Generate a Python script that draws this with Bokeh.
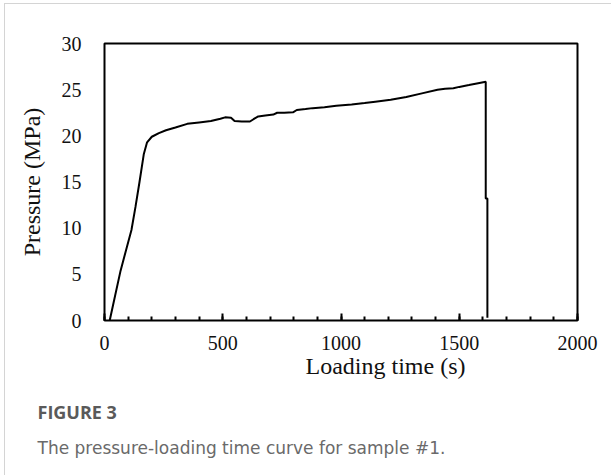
from bokeh.plotting import figure
from bokeh.models import Range1d, SingleIntervalTicker, Title
from bokeh.embed import file_html
from bokeh.resources import INLINE

# ---- data ----
loading_time = [22, 45, 68, 93, 114, 131, 148, 166, 180, 200, 230, 260, 300, 350,
                400, 450, 490, 510, 535, 550, 580, 615, 630, 650, 680, 714, 730,
                760, 797, 813, 850, 880, 930, 980, 1045, 1100, 1145, 1210, 1276,
                1342, 1408, 1440, 1475, 1500, 1541, 1580, 1612, 1612, 1619, 1619]
pressure = [0, 2.7, 5.4, 7.8, 9.8, 12.3, 15.0, 18.0, 19.3, 19.9, 20.3, 20.6, 20.9,
            21.3, 21.45, 21.6, 21.85, 22.0, 21.95, 21.6, 21.55, 21.55, 21.8, 22.1,
            22.2, 22.3, 22.5, 22.5, 22.55, 22.8, 22.9, 23.0, 23.1, 23.25, 23.4,
            23.55, 23.7, 23.9, 24.2, 24.6, 25.0, 25.1, 25.15, 25.3, 25.5, 25.7,
            25.85, 13.2, 13.2, 0.3]

x_title = "Loading time (s)"
y_title = "Pressure (MPa)"
fig_label = "FIGURE 3"
caption = "The pressure-loading time curve for sample #1."

SERIF = "Liberation Serif"

p = figure(width=607, height=472, output_backend="svg", toolbar_location=None,
           x_range=Range1d(0, 2000), y_range=Range1d(0, 30),
           min_border_left=99, min_border_right=35,
           min_border_top=39, min_border_bottom=156,
           margin=(3, 0, 0, 4),
           styles={"border-top": "1px solid #d4d4d4",
                   "border-left": "1px solid #d4d4d4"})

p.grid.visible = False
p.outline_line_color = "black"
p.outline_line_width = 2
p.background_fill_color = "white"
p.border_fill_color = "white"

p.line(loading_time, pressure, line_color="black", line_width=2)

# x axis
xa = p.xaxis[0]
xa.ticker = SingleIntervalTicker(interval=500, num_minor_ticks=5)
xa.axis_line_color = None
xa.major_tick_in = 7
xa.major_tick_out = 0
xa.minor_tick_in = 4
xa.minor_tick_out = 0
xa.major_tick_line_color = "black"
xa.major_tick_line_width = 2
xa.minor_tick_line_color = "black"
xa.minor_tick_line_width = 2
xa.major_label_standoff = 15
xa.major_label_text_font = SERIF
xa.major_label_text_font_size = "20px"
xa.major_label_text_color = "#111111"

# y axis
ya = p.yaxis[0]
ya.ticker = SingleIntervalTicker(interval=5)
ya.axis_line_color = None
ya.major_tick_in = 0
ya.major_tick_out = 0
ya.minor_tick_line_color = None
ya.major_label_standoff = 19
ya.major_label_text_font = SERIF
ya.major_label_text_font_size = "20px"
ya.major_label_text_color = "#111111"
ya.axis_label = y_title
ya.axis_label_text_font = SERIF
ya.axis_label_text_font_size = "24px"
ya.axis_label_text_font_style = "normal"
ya.axis_label_text_color = "#111111"
ya.axis_label_standoff = 14

# x axis title (shifted right as in the reference)
p.add_layout(Title(text=x_title, align="left", offset=201, standoff=-4,
                   text_font=SERIF, text_font_size="24px",
                   text_font_style="normal", text_color="#111111"), "below")

# caption
p.add_layout(Title(text=fig_label, align="left", offset=-67, standoff=43,
                   text_font="Open Sans", text_font_size="18px",
                   text_font_style="bold", text_color="#5a5a5a"), "below")
p.add_layout(Title(text=caption, align="left", offset=-67, standoff=-19,
                   text_font="DejaVu Sans", text_font_size="17px",
                   text_font_style="normal", text_color="#6a6a6a"), "below")

open("out.html", "w").write(file_html(p, INLINE))
